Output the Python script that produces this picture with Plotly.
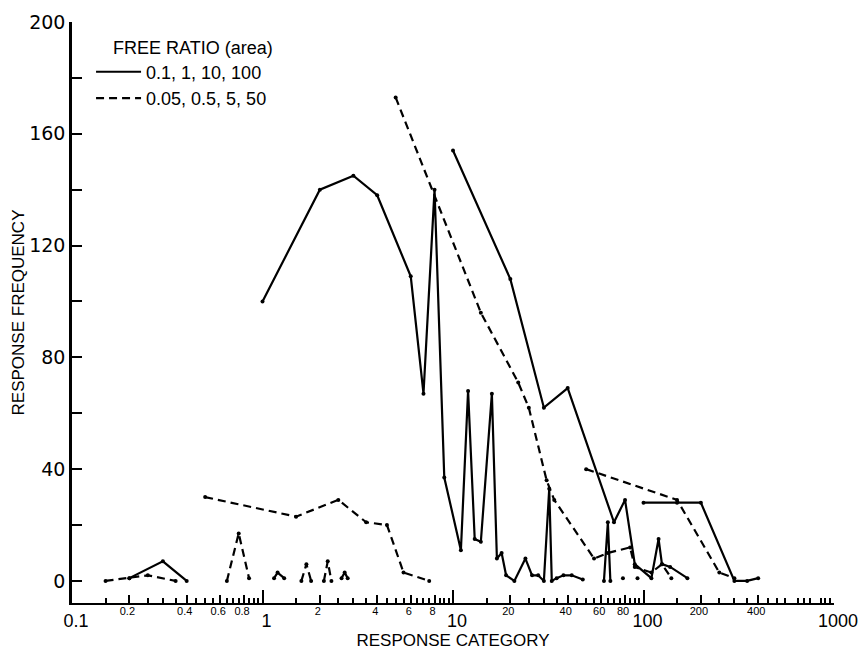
import plotly.graph_objects as go

# ---------------- data ----------------
# solid curves: free ratios 0.1, 1, 10, 100
r01_x = [0.2, 0.3, 0.4]
r01_y = [1, 7, 0]
r1_x = [1, 2, 3, 4, 6, 7, 8, 9, 11, 12, 13, 14, 16, 17, 18, 19, 21, 24, 26, 28, 30, 32, 33, 35, 38, 42, 48]
r1_y = [100, 140, 145, 138, 109, 67, 140, 37, 11, 68, 15, 14, 67, 8, 10, 2, 0, 8, 2, 2, 0, 33, 0, 1, 2, 2, 0.5]
r1_small_a_x = [1.15, 1.2, 1.3]
r1_small_a_y = [1, 3, 1]
r1_small_b_x = [2.6, 2.7, 2.8]
r1_small_b_y = [1, 3, 1]
r10_x = [10, 20, 30, 40, 70, 80, 90, 110, 120, 125, 138, 170]
r10_y = [154, 108, 62, 69, 21, 29, 6, 1, 15, 6, 5, 1]
r10_spike_x = [62, 65, 67]
r10_spike_y = [0, 21, 0]
r10_dot1_x = [78]
r10_dot1_y = [1]
r10_dot2_x = [93]
r10_dot2_y = [1]
r100_x = [100, 150, 200, 300, 350, 400]
r100_y = [28, 28, 28, 0, 0, 1]

# dashed curves: free ratios 0.05, 0.5, 5, 50
r005_x = [0.15, 0.2, 0.25, 0.35]
r005_y = [0, 1, 2, 0]
r05_spike_x = [0.65, 0.75, 0.85]
r05_spike_y = [0, 17, 1]
r05_x = [0.5, 1.5, 2.5, 3.5, 4.5, 5.5, 7.5]
r05_y = [30, 23, 29, 21, 20, 3, 0]
r05_small_a_x = [1.6, 1.7, 1.8]
r05_small_a_y = [0, 6, 0]
r05_small_b_x = [2.1, 2.2, 2.3]
r05_small_b_y = [0, 7, 0]
r5_x = [5, 14, 22, 25, 31, 34, 55, 65, 85, 90, 110, 125, 140]
r5_y = [173, 96, 71, 62, 36, 29, 8, 10, 12, 5, 3, 6, 1]
r50_x = [50, 150, 250, 300]
r50_y = [40, 29, 3, 1]

legend_title = "FREE RATIO (area)"
solid_name = "0.1, 1, 10, 100"
dashed_name = "0.05, 0.5, 5, 50"

y_ticks = [0, 40, 80, 120, 160, 200]
y_minor = [20, 60, 100, 140, 180]
x_big_ticks = [0.1, 1, 10, 100, 1000]
x_big_text = ["0.1", "1", "10", "100", "1000"]
x_small_ticks = [0.2, 0.4, 0.6, 0.8, 2, 4, 6, 8, 20, 40, 60, 80, 200, 400]
x_small_text = ["0.2", "0.4", "0.6", "0.8", "2", "4", "6", "8", "20", "40", "60", "80", "200", "400"]
minor_mult = [1.5, 2.5, 3, 3.5, 4.5, 5, 5.5, 6.5, 7, 7.5, 8.5, 9, 9.5]
decades = [0.1, 1, 10, 100]


def join(segs):
    xs, ys = [], []
    for sx, sy in segs:
        if xs:
            xs.append(None)
            ys.append(None)
        xs += list(sx)
        ys += list(sy)
    return xs, ys


sx, sy = join([(r01_x, r01_y), (r1_x, r1_y), (r1_small_a_x, r1_small_a_y),
               (r1_small_b_x, r1_small_b_y), (r10_x, r10_y), (r10_spike_x, r10_spike_y),
               (r10_dot1_x, r10_dot1_y), (r10_dot2_x, r10_dot2_y), (r100_x, r100_y)])
dx, dy = join([(r005_x, r005_y), (r05_spike_x, r05_spike_y), (r05_x, r05_y),
               (r05_small_a_x, r05_small_a_y), (r05_small_b_x, r05_small_b_y),
               (r5_x, r5_y), (r50_x, r50_y)])

minor_vals = [d * m for d in decades for m in minor_mult]

FONT = "Liberation Sans, Arial, sans-serif"
NUMFONT = "DejaVu Sans, sans-serif"

fig = go.Figure()
# lines (shown in legend)
fig.add_trace(go.Scatter(x=sx, y=sy, mode="lines", name=solid_name,
                         line=dict(color="black", width=2.2)))
fig.add_trace(go.Scatter(x=dx, y=dy, mode="lines", name=dashed_name, xaxis="x2",
                         line=dict(color="black", width=2.2, dash="8px,5px")))
# point dots (not in legend)
fig.add_trace(go.Scatter(x=sx, y=sy, mode="markers", showlegend=False, hoverinfo="skip",
                         marker=dict(color="black", size=4)))
fig.add_trace(go.Scatter(x=dx, y=dy, mode="markers", showlegend=False, hoverinfo="skip",
                         xaxis="x2", marker=dict(color="black", size=4)))

# the page body adds an 8px offset; the figure is sized to fill the rest of the window
fig.update_layout(
    width=860, height=642,
    margin=dict(l=64, r=34, t=14, b=47, autoexpand=False),
    paper_bgcolor="white", plot_bgcolor="white",
    font=dict(family=FONT, color="black"),
    showlegend=True,
    legend=dict(
        x=0.025, y=0.986, xanchor="left", yanchor="top",
        bgcolor="rgba(0,0,0,0)",
        font=dict(size=18, family=FONT),
        title=dict(text="\u00a0\u00a0\u00a0\u00a0" + legend_title, font=dict(size=18, family=FONT)),
        itemwidth=45,
    ),
    xaxis=dict(
        type="log", range=[-1, 3], automargin=False,
        showgrid=False, zeroline=False,
        showline=True, linecolor="black", linewidth=2,
        tickmode="array", tickvals=x_big_ticks, ticktext=x_big_text,
        ticks="inside", ticklen=13, tickwidth=2, tickcolor="black",
        tickfont=dict(size=18, family=FONT), ticklabelshift=4,
        minor=dict(tickmode="array", tickvals=minor_vals, ticks="inside",
                   ticklen=5, tickwidth=1.5, tickcolor="black", showgrid=False),
        title=dict(text="RESPONSE CATEGORY", font=dict(size=17, family=FONT), standoff=5),
    ),
    xaxis2=dict(
        type="log", range=[-1, 3], overlaying="x", anchor="y", side="bottom",
        automargin=False, matches="x",
        showgrid=False, zeroline=False, showline=False,
        tickmode="array", tickvals=x_small_ticks, ticktext=x_small_text,
        ticks="inside", ticklen=8, tickwidth=1.5, tickcolor="black",
        tickfont=dict(size=11, family=FONT), ticklabelshift=-2,
    ),
    yaxis=dict(
        range=[-7.9, 200], automargin=False,
        showgrid=False, zeroline=False,
        showline=True, linecolor="black", linewidth=2.5,
        tickmode="array", tickvals=y_ticks,
        ticks="inside", ticklen=10, tickwidth=2, tickcolor="black",
        tickfont=dict(size=19, family=NUMFONT),
        minor=dict(tickmode="array", tickvals=y_minor, ticks="inside",
                   ticklen=10, tickwidth=2, tickcolor="black", showgrid=False),
        title=dict(text="RESPONSE FREQUENCY", font=dict(size=17, family=FONT), standoff=1),
    ),
)

fig.write_html("out.html")
